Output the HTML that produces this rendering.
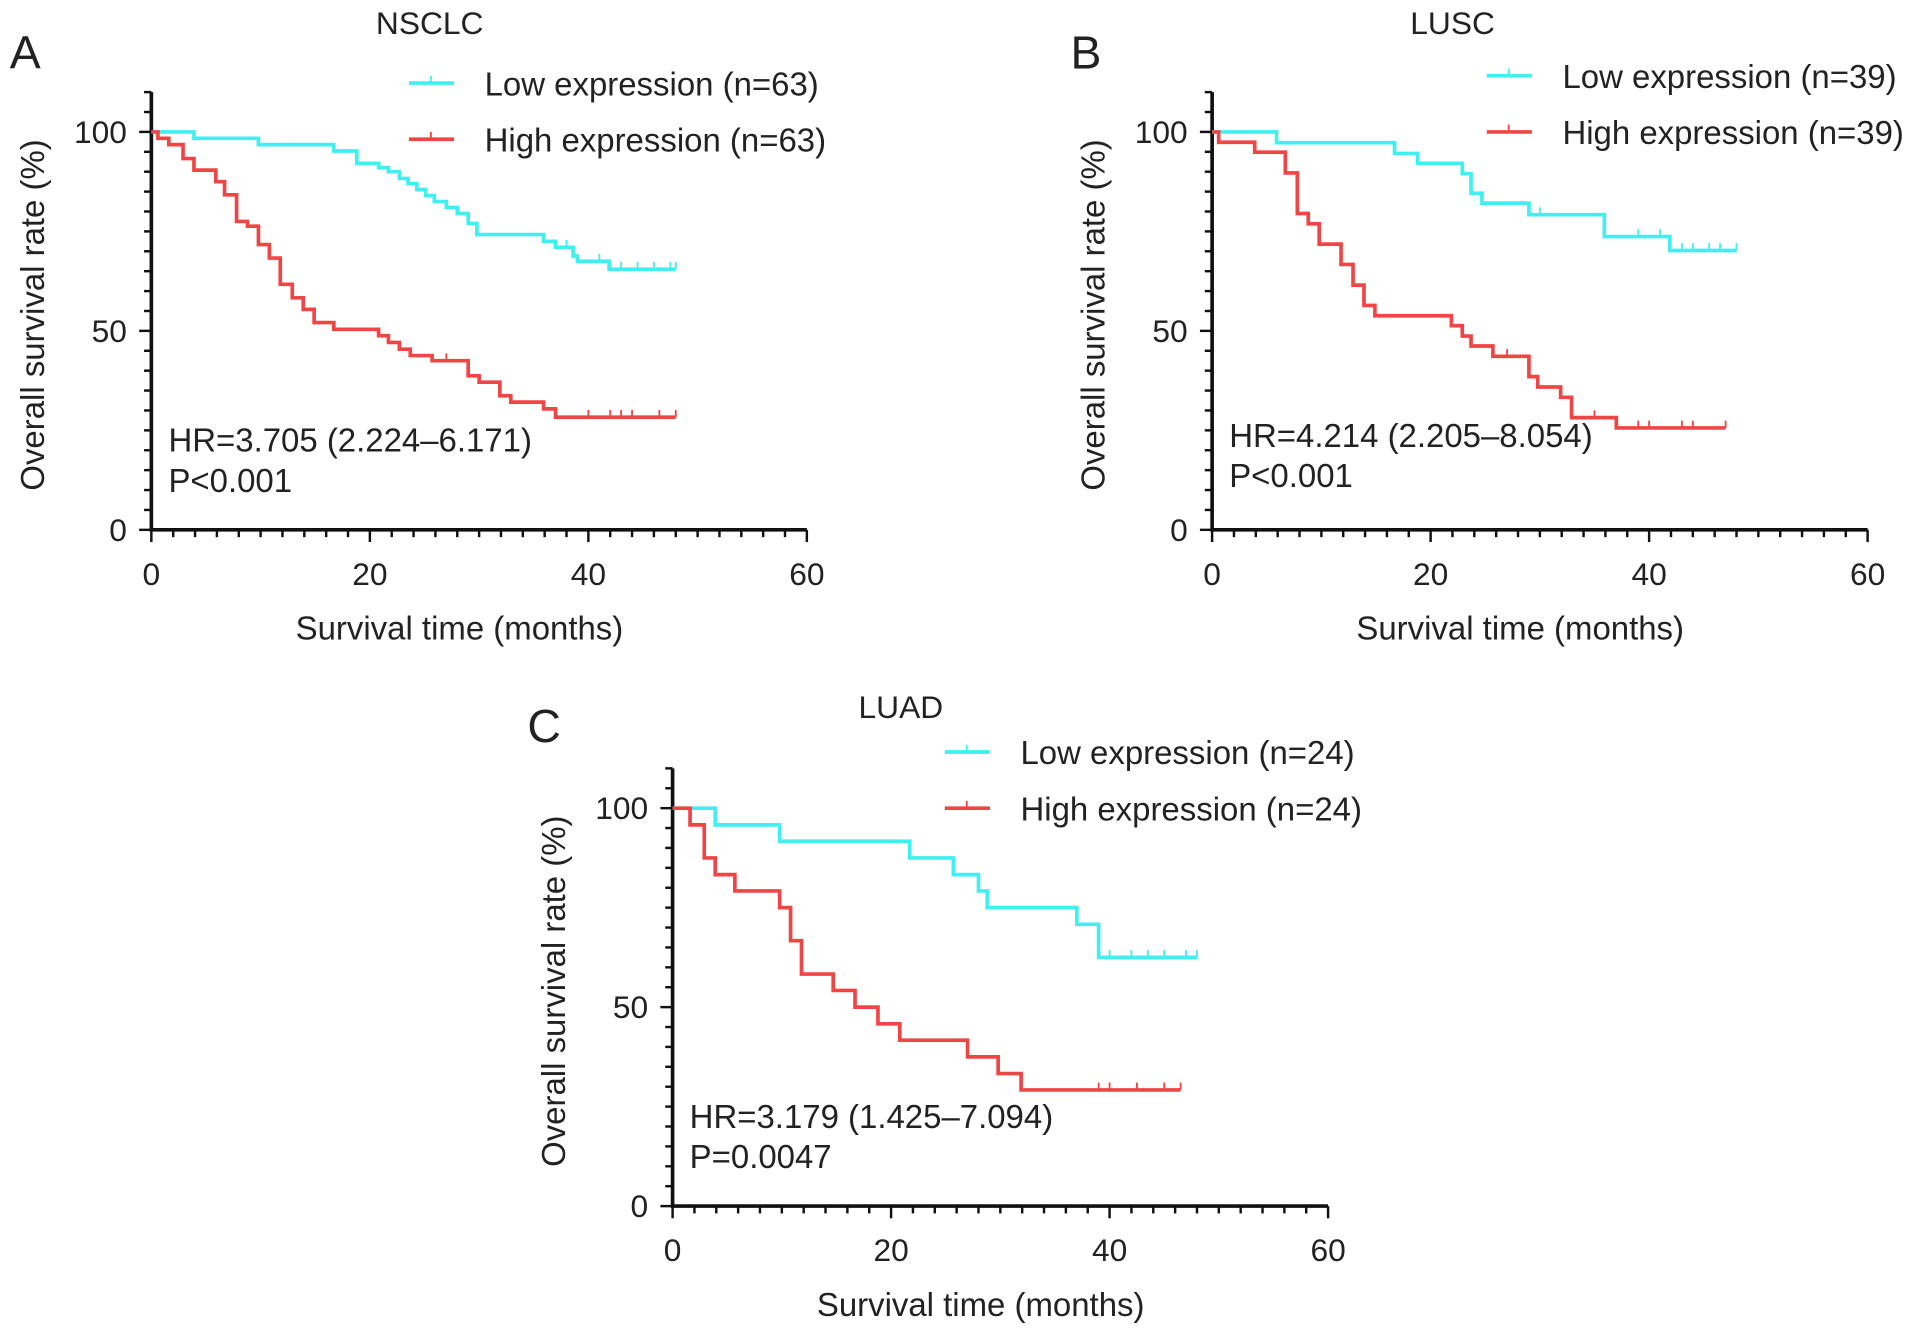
<!DOCTYPE html>
<html><head><meta charset="utf-8"><style>
html,body{margin:0;padding:0;background:#fff}
svg{display:block}
text{font-family:"Liberation Sans",Arial,sans-serif;fill:#222}
</style></head><body>
<svg id="fig" width="1914" height="1338" viewBox="0 0 1568 1096" xmlns="http://www.w3.org/2000/svg"></svg>
<script>
// Panel A (NSCLC)
const aLowT=[3.9,9.8,16.7,18.8,20.8,21.7,22.7,23.5,24.3,25.1,25.9,27,28,29,29.8,35.9,37,38.6,39,41.9];
const aLowS=[98.4,96.8,95.2,92.1,91,90,88.3,87,85.5,84,82.5,81,79.5,77,74.2,72.5,71,68.8,67.5,65.5];
const aLowCens=[38,41,43,44.5,46,47.5,48];
const aHighT=[0.6,1.6,2.9,3.9,5.9,6.7,7.8,8.8,9.8,10.8,11.8,12.9,13.9,14.9,16.7,20.8,21.7,22.7,23.7,25.7,29,30,31.9,32.9,35.9,37];
const aHighS=[98.4,96.8,93.3,90.4,87.5,84.2,77.5,76.3,71.7,68.3,61.7,58.3,55.4,52.1,50.4,48.8,47.1,45.4,43.8,42.5,38.7,37.1,33.7,32.1,30.4,28.3];
const aHighCens=[27,40,42,43,44,46.5,48];
// Panel B (LUSC)
const bLowT=[5.9,16.7,18.8,22.9,23.7,24.7,29,35.9,41.9];
const bLowS=[97.3,94.6,92.1,89.5,84.6,82.1,79.2,73.7,70.2];
const bLowCens=[30,39,41,43,44,45.5,46.5,48];
const bHighT=[0.6,3.9,6.7,7.8,8.8,9.8,11.8,12.9,13.9,14.9,21.9,22.9,23.7,25.7,29,29.8,31.9,32.9,37];
const bHighS=[97.4,94.9,89.7,79.5,76.9,71.8,66.7,61.5,56.4,53.8,51.3,48.7,46.2,43.6,38.5,35.9,33.3,28.2,25.6];
const bHighCens=[27,35,39,40,43,44,47];
// Panel C (LUAD)
const cLowT=[3.9,9.8,21.7,25.7,28,28.8,37,39];
const cLowS=[95.8,91.7,87.5,83.3,79.2,75,70.8,62.5];
const cLowCens=[40,42,43.5,45,47,48];
const cHighT=[1.6,2.9,3.9,5.7,9.8,10.8,11.8,14.7,16.7,18.8,20.8,27,29.8,31.9];
const cHighS=[95.8,87.5,83.3,79.2,75,66.7,58.3,54.2,50,45.8,41.7,37.5,33.3,29.2];
const cHighCens=[39,40,42.5,45,46.5];
const xTicks=[0,20,40,60];
const yTicks=[0,50,100];

const NS="http://www.w3.org/2000/svg";
const svg=document.getElementById('fig');
function mk(tag,attrs,parent){const e=document.createElementNS(NS,tag);for(const k in attrs)e.setAttribute(k,attrs[k]);(parent||svg).appendChild(e);return e;}
function txt(s,x,y,size,anchor,parent){const t=mk('text',{x:x,y:y,'font-size':size,'text-anchor':anchor||'start'},parent);t.textContent=s;return t;}

function panel(cfg){
  const g=mk('g',{});
  
  
  const x0=cfg.x0,y0=cfg.y0,pxm=537/60,pxp=3.26;
  const X=m=>x0+m*pxm, Y=p=>y0-p*pxp;
  const ax=mk('path',{d:`M${x0},${Y(110)}V${y0}H${X(60)}`,stroke:'#111','stroke-width':3,fill:'none'},g);
  
  
  for(let p=0;p<=110;p+=5){const maj=p%50===0;mk('line',{x1:x0,x2:x0-(maj?10:6),y1:Y(p),y2:Y(p),stroke:'#111','stroke-width':2},g);}
  for(let m=0;m<=60;m+=2){const maj=m%20===0;mk('line',{x1:X(m),x2:X(m),y1:y0,y2:y0+(maj?10:6),stroke:'#111','stroke-width':2},g);}
  yTicks.forEach(p=>{const t=txt(String(p),x0-20,Y(p)+9,26,'end',g);});
  xTicks.forEach(m=>{const t=txt(String(m),X(m),y0+45,26,'middle',g);});
  const xt=txt('Survival time (months)',X(28.2),y0+90,27,'middle',g);
  
  const yt=txt('Overall survival rate (%)',0,0,27,'middle',g);
  yt.setAttribute('transform',`translate(${x0-88},${Y(54)}) rotate(-90)`);
  
  const ti=txt(cfg.title,cfg.tx,cfg.ty,26,'middle',g);
  
  const lb=txt(cfg.letter,cfg.lx,cfg.ly,38,'start',g);
  
  function curve(T,S,C,color,name){
    let d=`M${X(0)},${Y(100)}`;
    for(let i=0;i<T.length;i++){d+=`H${X(T[i])}V${Y(S[i])}`;}
    d+=`H${X(C[C.length-1])}`;
    const p=mk('path',{d:d,stroke:color,'stroke-width':3,fill:'none'},g);
    
    
    C.forEach(c=>{let v=100;for(let i=0;i<T.length;i++)if(T[i]<=c)v=S[i];
      const l=mk('line',{x1:X(c),x2:X(c),y1:Y(v),y2:Y(v)-6,stroke:color,'stroke-width':1.5},g);
      });
  }
  curve(cfg.lowT,cfg.lowS,cfg.lowC,'#3ff0f0','low-expression-curve');
  curve(cfg.highT,cfg.highS,cfg.highC,'#f04545','high-expression-curve');
  [[cfg.lowLbl,'#3ff0f0',0],[cfg.highLbl,'#f04545',46]].forEach(([lab,col,dy],i)=>{
    const lg=mk('g',{},g);
    
    
    mk('line',{x1:cfg.legx,x2:cfg.legx+37,y1:cfg.legy+dy,y2:cfg.legy+dy,stroke:col,'stroke-width':3},lg);
    mk('line',{x1:cfg.legx+18,x2:cfg.legx+18,y1:cfg.legy+dy,y2:cfg.legy+dy-6,stroke:col,'stroke-width':1.5},lg);
    txt(lab,cfg.legx+62,cfg.legy+dy+10,27,'start',lg);
  });
  const hr=txt(cfg.hr,x0+14,cfg.hry,27,'start',g);
  
  const pv=txt(cfg.p,x0+14,cfg.hry+33,27,'start',g);
  
}
panel({key:'a',x0:124,y0:434,title:'NSCLC',tx:352,ty:28,letter:'A',lx:8,ly:56,
  lowT:aLowT,lowS:aLowS,lowC:aLowCens,highT:aHighT,highS:aHighS,highC:aHighCens,
  lowLbl:'Low expression (n=63)',highLbl:'High expression (n=63)',legx:335,legy:68,
  hr:'HR=3.705 (2.224\u20136.171)',p:'P<0.001',hry:370});
panel({key:'b',x0:993,y0:434,title:'LUSC',tx:1190,ty:28,letter:'B',lx:877,ly:56,
  lowT:bLowT,lowS:bLowS,lowC:bLowCens,highT:bHighT,highS:bHighS,highC:bHighCens,
  lowLbl:'Low expression (n=39)',highLbl:'High expression (n=39)',legx:1218,legy:62,
  hr:'HR=4.214 (2.205\u20138.054)',p:'P<0.001',hry:366});
panel({key:'c',x0:551,y0:988,title:'LUAD',tx:738,ty:588,letter:'C',lx:432,ly:608,
  lowT:cLowT,lowS:cLowS,lowC:cLowCens,highT:cHighT,highS:cHighS,highC:cHighCens,
  lowLbl:'Low expression (n=24)',highLbl:'High expression (n=24)',legx:774,legy:616,
  hr:'HR=3.179 (1.425\u20137.094)',p:'P=0.0047',hry:924});
</script>
</body></html>
